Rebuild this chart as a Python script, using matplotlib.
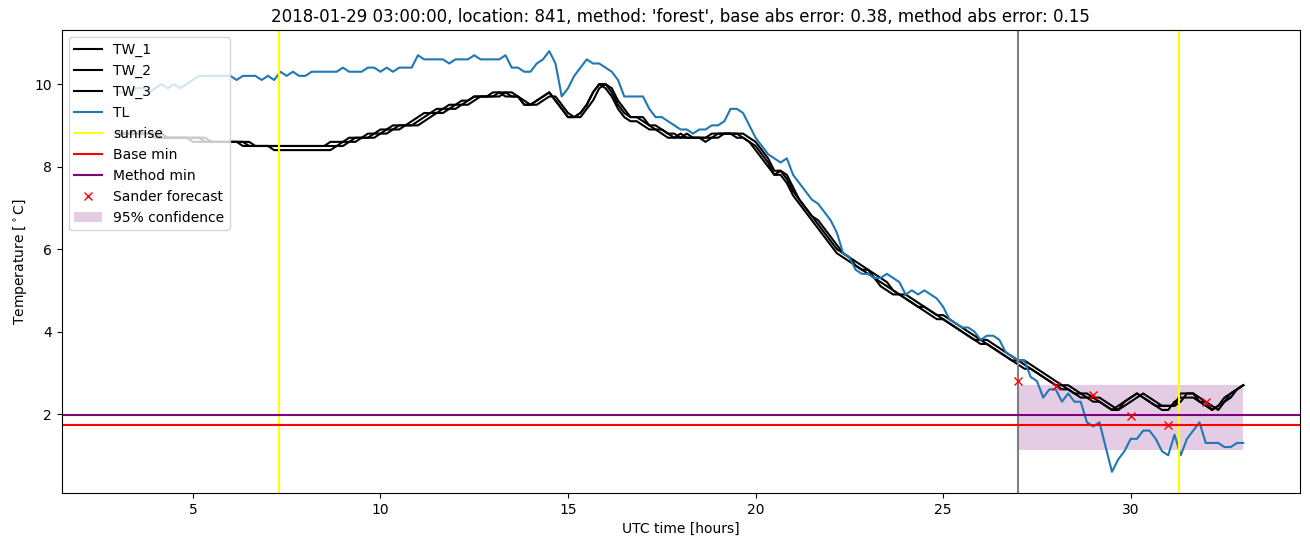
import numpy as np
import matplotlib
matplotlib.use("Agg")
import matplotlib.pyplot as plt

# Zeitachse: 10-Minuten-Werte von 03:00 bis 09:00 am Folgetag
hours = np.arange(181) / 6 + 3

TW_1 = [8.8, 8.8, 8.8, 8.8, 8.8, 8.8, 8.8, 8.7, 8.7, 8.7, 8.7, 8.7,
        8.7, 8.7, 8.6, 8.6, 8.6, 8.6, 8.6, 8.6, 8.6, 8.5, 8.5, 8.5,
        8.5, 8.5, 8.5, 8.5, 8.5, 8.5, 8.5, 8.5, 8.5, 8.5, 8.5, 8.5,
        8.6, 8.6, 8.7, 8.7, 8.7, 8.8, 8.8, 8.9, 8.9, 9.0, 9.0, 9.0,
        9.1, 9.2, 9.3, 9.3, 9.4, 9.4, 9.5, 9.5, 9.6, 9.7, 9.7, 9.7,
        9.7, 9.8, 9.8, 9.7, 9.7, 9.5, 9.5, 9.6, 9.7, 9.8, 9.6, 9.4,
        9.2, 9.2, 9.3, 9.5, 9.8, 10.0, 10.0, 9.8, 9.5, 9.3, 9.2, 9.2,
        9.1, 9.0, 8.9, 8.9, 8.8, 8.7, 8.8, 8.7, 8.7, 8.7, 8.6, 8.7,
        8.8, 8.8, 8.8, 8.8, 8.7, 8.6, 8.5, 8.3, 8.1, 7.8, 7.9, 7.7,
        7.4, 7.2, 7.0, 6.8, 6.6, 6.4, 6.2, 6.0, 5.9, 5.8, 5.6, 5.5,
        5.5, 5.3, 5.2, 5.1, 5.0, 4.9, 4.8, 4.7, 4.6, 4.6, 4.5, 4.4,
        4.3, 4.2, 4.1, 4.0, 3.9, 3.8, 3.8, 3.7, 3.6, 3.5, 3.4, 3.3,
        3.3, 3.2, 3.1, 3.0, 2.9, 2.8, 2.7, 2.7, 2.6, 2.5, 2.5, 2.4,
        2.4, 2.3, 2.2, 2.1, 2.1, 2.3, 2.4, 2.5, 2.4, 2.3, 2.2, 2.2,
        2.2, 2.2, 2.5, 2.5, 2.5, 2.3, 2.3, 2.1, 2.2, 2.4, 2.5, 2.6, 2.7]

TW_2 = [8.8, 8.8, 8.8, 8.8, 8.8, 8.8, 8.8, 8.8, 8.7, 8.7, 8.7, 8.7,
        8.7, 8.7, 8.7, 8.6, 8.6, 8.6, 8.6, 8.6, 8.6, 8.6, 8.5, 8.5,
        8.5, 8.4, 8.4, 8.4, 8.4, 8.4, 8.4, 8.4, 8.4, 8.4, 8.4, 8.5,
        8.5, 8.6, 8.6, 8.7, 8.7, 8.7, 8.8, 8.8, 8.9, 8.9, 9.0, 9.0,
        9.0, 9.1, 9.2, 9.3, 9.3, 9.4, 9.4, 9.5, 9.5, 9.6, 9.7, 9.7,
        9.7, 9.7, 9.8, 9.8, 9.7, 9.6, 9.5, 9.5, 9.6, 9.7, 9.7, 9.5,
        9.3, 9.2, 9.2, 9.4, 9.6, 9.9, 10.0, 9.9, 9.6, 9.4, 9.2, 9.2,
        9.2, 9.0, 9.0, 8.9, 8.8, 8.8, 8.7, 8.8, 8.7, 8.7, 8.7, 8.7,
        8.7, 8.8, 8.8, 8.8, 8.8, 8.7, 8.6, 8.4, 8.2, 7.9, 7.9, 7.8,
        7.5, 7.2, 7.0, 6.8, 6.7, 6.5, 6.3, 6.1, 5.9, 5.8, 5.7, 5.6,
        5.5, 5.4, 5.3, 5.2, 5.0, 4.9, 4.9, 4.8, 4.7, 4.6, 4.5, 4.4,
        4.4, 4.3, 4.2, 4.1, 4.0, 3.9, 3.8, 3.8, 3.7, 3.6, 3.5, 3.4,
        3.3, 3.3, 3.2, 3.1, 3.0, 2.9, 2.8, 2.7, 2.7, 2.6, 2.5, 2.5,
        2.4, 2.4, 2.3, 2.2, 2.1, 2.2, 2.3, 2.4, 2.5, 2.4, 2.3, 2.2,
        2.2, 2.2, 2.3, 2.5, 2.5, 2.4, 2.3, 2.2, 2.1, 2.3, 2.5, 2.6, 2.7]

TW_3 = [8.8, 8.8, 8.8, 8.8, 8.8, 8.8, 8.7, 8.7, 8.7, 8.7, 8.7, 8.7,
        8.6, 8.6, 8.6, 8.6, 8.6, 8.6, 8.6, 8.6, 8.5, 8.5, 8.5, 8.5,
        8.5, 8.5, 8.5, 8.5, 8.5, 8.5, 8.5, 8.5, 8.5, 8.5, 8.6, 8.6,
        8.6, 8.7, 8.7, 8.7, 8.8, 8.8, 8.9, 8.9, 9.0, 9.0, 9.0, 9.1,
        9.2, 9.3, 9.3, 9.4, 9.4, 9.5, 9.5, 9.6, 9.6, 9.7, 9.7, 9.7,
        9.8, 9.8, 9.7, 9.7, 9.7, 9.5, 9.5, 9.6, 9.7, 9.8, 9.6, 9.4,
        9.2, 9.2, 9.3, 9.5, 9.8, 10.0, 9.9, 9.7, 9.4, 9.2, 9.1, 9.1,
        9.0, 8.9, 8.9, 8.8, 8.7, 8.7, 8.7, 8.7, 8.7, 8.7, 8.7, 8.8,
        8.8, 8.8, 8.8, 8.7, 8.7, 8.6, 8.4, 8.2, 8.0, 7.8, 7.8, 7.6,
        7.3, 7.1, 6.9, 6.7, 6.5, 6.3, 6.1, 5.9, 5.8, 5.7, 5.6, 5.5,
        5.4, 5.3, 5.1, 5.0, 4.9, 4.9, 4.8, 4.7, 4.6, 4.5, 4.4, 4.3,
        4.3, 4.2, 4.1, 4.0, 3.9, 3.8, 3.7, 3.7, 3.6, 3.5, 3.4, 3.3,
        3.2, 3.1, 3.1, 3.0, 2.9, 2.8, 2.7, 2.6, 2.6, 2.5, 2.4, 2.4,
        2.3, 2.3, 2.2, 2.1, 2.2, 2.3, 2.4, 2.5, 2.4, 2.3, 2.2, 2.1,
        2.1, 2.3, 2.4, 2.4, 2.4, 2.3, 2.2, 2.1, 2.2, 2.3, 2.4, 2.6, 2.7]

TL = [9.8, 9.8, 9.8, 9.9, 9.9, 9.8, 9.9, 10.0, 9.9, 10.0, 9.9, 10.0,
      10.1, 10.2, 10.2, 10.2, 10.2, 10.2, 10.2, 10.1, 10.2, 10.2, 10.2, 10.1,
      10.2, 10.1, 10.3, 10.2, 10.3, 10.2, 10.2, 10.3, 10.3, 10.3, 10.3, 10.3,
      10.4, 10.3, 10.3, 10.3, 10.4, 10.4, 10.3, 10.4, 10.3, 10.4, 10.4, 10.4,
      10.7, 10.6, 10.6, 10.6, 10.6, 10.5, 10.6, 10.6, 10.6, 10.7, 10.6, 10.6,
      10.6, 10.6, 10.7, 10.4, 10.4, 10.3, 10.3, 10.5, 10.6, 10.8, 10.5, 9.7,
      9.9, 10.2, 10.4, 10.6, 10.5, 10.5, 10.4, 10.3, 10.1, 9.7, 9.7, 9.7,
      9.7, 9.4, 9.2, 9.2, 9.1, 9.0, 8.9, 8.9, 8.8, 8.9, 8.9, 9.0,
      9.0, 9.1, 9.4, 9.4, 9.3, 9.0, 8.7, 8.5, 8.3, 8.2, 8.1, 8.2,
      7.8, 7.6, 7.4, 7.2, 7.1, 6.9, 6.7, 6.4, 5.9, 5.8, 5.5, 5.4,
      5.4, 5.3, 5.3, 5.4, 5.3, 5.2, 4.9, 5.0, 4.9, 5.0, 4.9, 4.8,
      4.6, 4.3, 4.2, 4.1, 4.1, 4.0, 3.8, 3.9, 3.9, 3.8, 3.5, 3.4,
      3.3, 3.3, 2.9, 2.8, 2.4, 2.6, 2.6, 2.3, 2.5, 2.3, 2.3, 1.8,
      1.7, 1.8, 1.2, 0.6, 0.9, 1.1, 1.4, 1.4, 1.6, 1.6, 1.4, 1.1,
      1.0, 1.5, 1.0, 1.4, 1.6, 1.8, 1.3, 1.3, 1.3, 1.2, 1.2, 1.3, 1.3]

sunrise_hours = [7.3, 31.3]
forecast_start = 27
base_min = 1.73
method_min = 1.97
sander_hours = [27, 28, 29, 30, 31, 32]
sander_values = [2.8, 2.68, 2.47, 1.95, 1.73, 2.3]
conf_hours = [27, 33]
conf_low = 1.13
conf_high = 2.7

title = ("2018-01-29 03:00:00, location: 841, method: 'forest', "
         "base abs error: 0.38, method abs error: 0.15")

fig, ax = plt.subplots(figsize=(13.1, 5.47), dpi=100)
fig.subplots_adjust(left=0.047, right=0.992, top=0.945, bottom=0.099)

ax.plot(hours, TW_1, color='black', label='TW_1')
ax.plot(hours, TW_2, color='black', label='TW_2')
ax.plot(hours, TW_3, color='black', label='TW_3')
ax.plot(hours, TL, color='tab:blue', label='TL')

ax.axvline(sunrise_hours[0], color='yellow', label='sunrise')
ax.axvline(sunrise_hours[1], color='yellow')
ax.axvline(forecast_start, color='grey')
ax.axhline(base_min, color='red', label='Base min')
ax.axhline(method_min, color='purple', label='Method min')
ax.plot(sander_hours, sander_values, 'x', color='red', label='Sander forecast')
ax.fill_between(conf_hours, conf_low, conf_high, color='purple', alpha=0.2,
                linewidth=0, label='95% confidence')

ax.set_xlabel('UTC time [hours]')
ax.set_ylabel(r'Temperature [$^\circ$C]')
ax.set_title(title)
ax.legend(loc='upper left')

plt.savefig('out.png')
